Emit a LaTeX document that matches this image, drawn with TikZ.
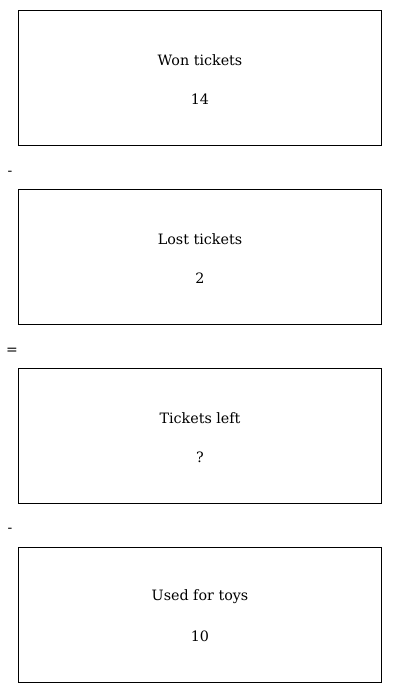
\documentclass[tikz,border=0pt]{standalone}
\usepackage{fontspec}
\setmainfont{DejaVu Serif}
\begin{document}
\begin{tikzpicture}[x=1pt,y=-1pt,
  box/.style={draw,line width=0.9pt,minimum width=363pt,minimum height=135pt,anchor=north west,inner sep=0pt},
  txt/.style={font=\fontsize{14.3}{17}\selectfont},
  op/.style={font=\fontsize{14}{16}\selectfont}]
\useasboundingbox (0,0) rectangle (400,693);
\node[box] (b1) at (18,10) {};
\node[box] (b2) at (18,189) {};
\node[box] (b3) at (18,368) {};
\node[box] (b4) at (18,547) {};
\node[txt] (t1a) at (200,60) {Won tickets};
\node[txt] (t1b) at (200,99) {14};
\node[txt] (t2a) at (200,239) {Lost tickets};
\node[txt] (t2b) at (200,278) {2};
\node[txt] (t3a) at (200,418) {Tickets left};
\node[txt] (t3b) at (200,457) {?};
\node[txt] (t4a) at (200,597) {Used for toys};
\node[txt] (t4b) at (200,636) {10};
\node[op] (o1) at (10,173) {-};
\node[op] (o2) at (12,351) {=};
\node[op] (o3) at (10,530) {-};
\end{tikzpicture}
\end{document}
